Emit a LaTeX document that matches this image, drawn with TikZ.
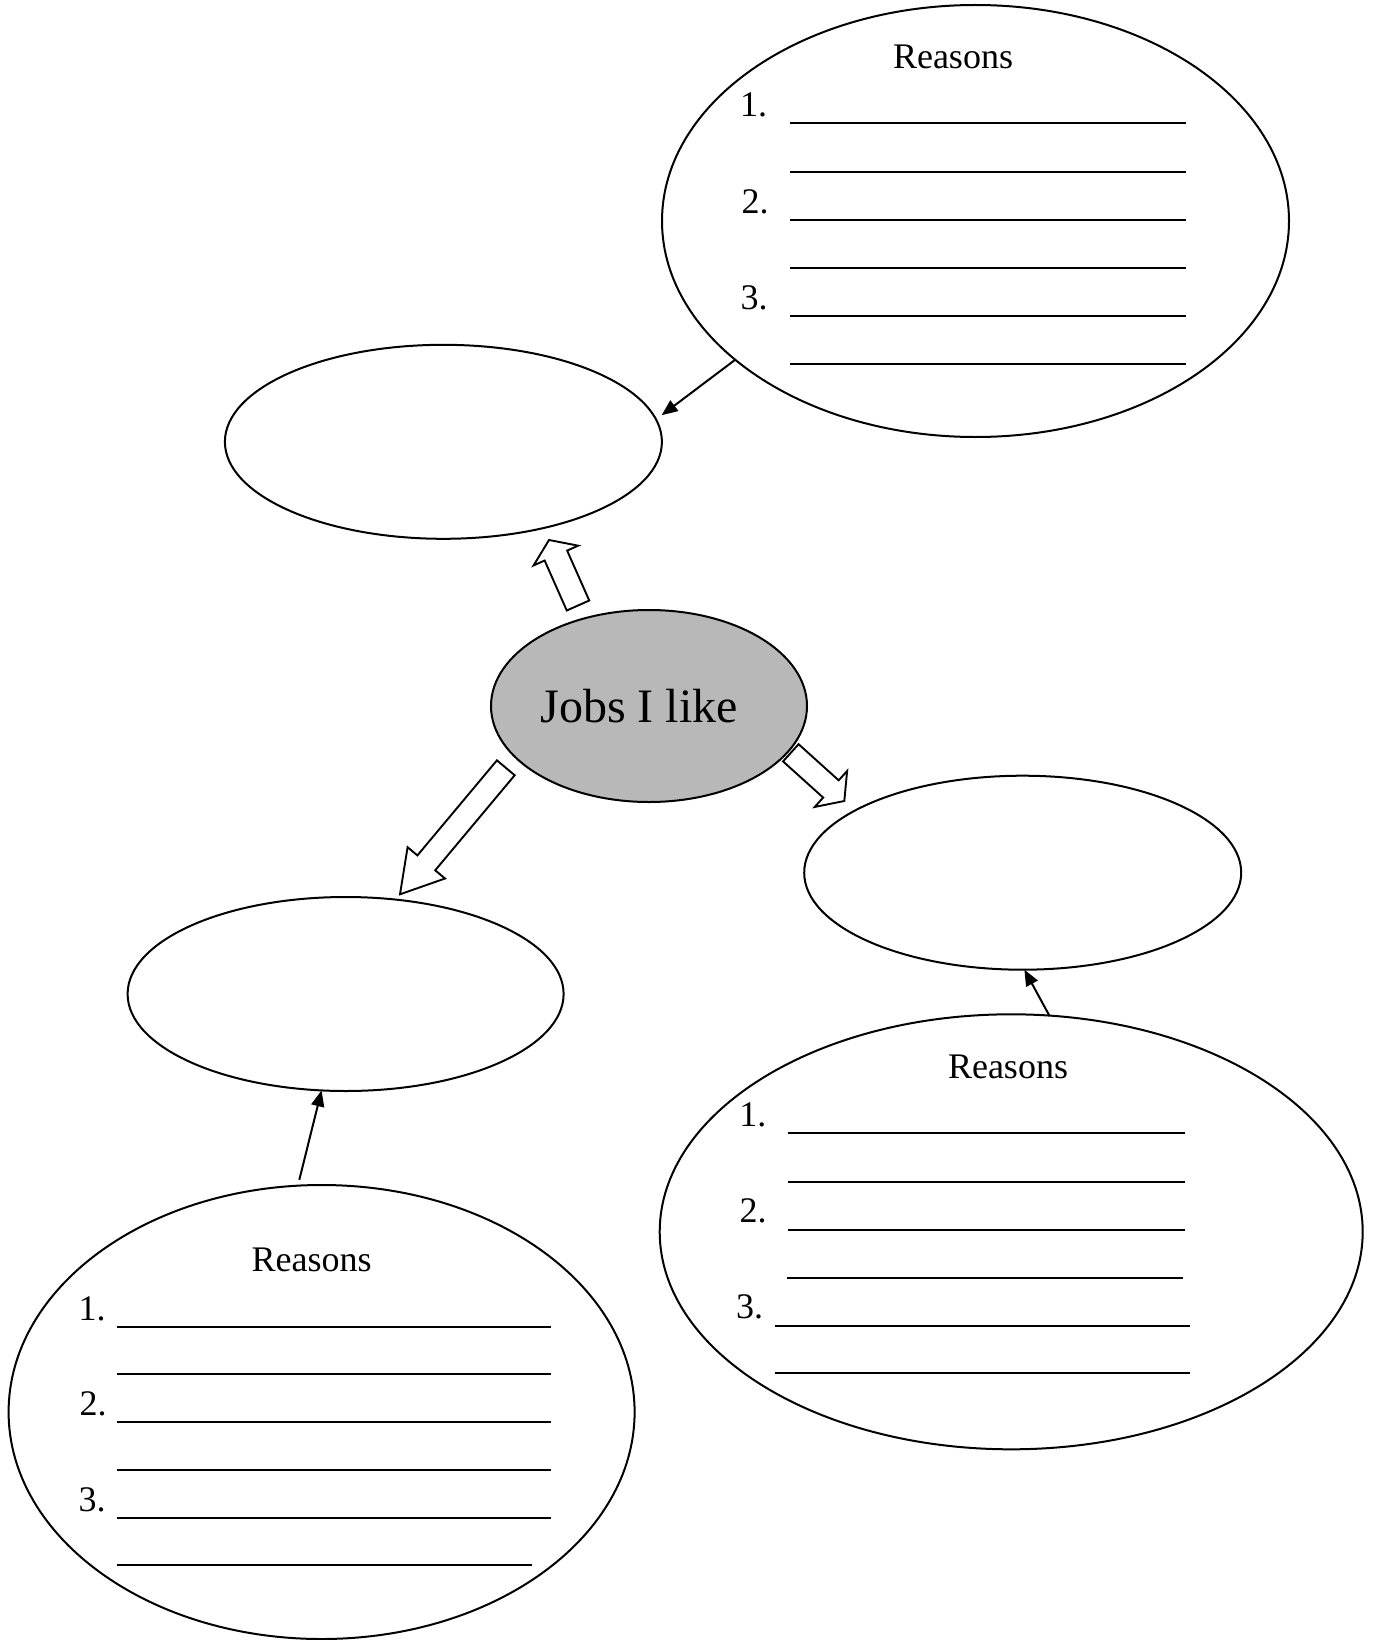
\documentclass[tikz,border=0pt]{standalone}
\usepackage{fontspec}
\setmainfont{Liberation Serif}
\usetikzlibrary{shapes.geometric,arrows.meta,calc}
\tikzset{
  oval/.style={draw, ellipse, line width=2pt, inner sep=0pt, outer sep=0pt},
  reason/.style={font=\fontsize{36}{40}\selectfont, inner sep=0pt, outer sep=0pt},
  blank/.style={line width=1.7pt},
  thinarr/.style={draw, line width=2pt, -{Triangle[length=16pt,width=13pt]}},
  hollow/.style={draw, line width=1.9pt, fill=white, line join=miter},
}
\newcommand\blockarr[5]{%
  \coordinate (#2-base) at ($(#2)!#5!(#1)$);
  \draw[hollow] ($(#1)!#3!90:(#2)$) -- ($(#2-base)!#3!-90:(#1)$) -- ($(#2-base)!#4!-90:(#1)$) -- (#2) -- ($(#2-base)!#4!90:(#1)$) -- ($(#2-base)!#3!90:(#1)$) -- ($(#1)!#3!-90:(#2)$) -- cycle;}
\begin{document}
\begin{tikzpicture}[x=1pt,y=-1pt]
\path[use as bounding box, fill=white] (0,0) rectangle (1373,1640);

% ellipses
\node[oval, minimum width=627pt, minimum height=432pt] (tr) at (975.5,221) {};
\node[oval, minimum width=437pt, minimum height=194pt] (tl) at (443.4,441.8) {};
\node[oval, fill=black!28, minimum width=316pt, minimum height=192pt,
      font=\fontsize{48}{52}\selectfont] (ce) at (649,706) {Jobs I like\hspace*{20pt}};
\node[oval, minimum width=437pt, minimum height=194pt] (rm) at (1022.7,872.7) {};
\node[oval, minimum width=436pt, minimum height=194pt] (lm) at (345.6,994) {};
\node[oval, minimum width=703pt, minimum height=435pt] (br) at (1011.2,1231.8) {};
\node[oval, minimum width=626pt, minimum height=454pt] (bl) at (321.6,1412) {};

% top-right reasons
\node[reason, anchor=base] (trR) at (953,68.3) {Reasons};
\node[reason, anchor=base west] (tr1) at (740,116.7) {1.};
\node[reason, anchor=base west] (tr2) at (741.5,213) {2.};
\node[reason, anchor=base west] (tr3) at (740.5,309) {3.};
\foreach \y in {122.7,171.7,220,267.7,316,364}
  \draw[blank] (790,\y) -- (1186,\y);

% bottom-right reasons
\node[reason, anchor=base] (brR) at (1008,1078.3) {Reasons};
\node[reason, anchor=base west] (br1) at (739.3,1126.7) {1.};
\node[reason, anchor=base west] (br2) at (739.7,1222.7) {2.};
\node[reason, anchor=base west] (br3) at (736,1318) {3.};
\foreach \y in {1133.3,1181.7,1230}
  \draw[blank] (788,\y) -- (1185,\y);
\draw[blank] (786.7,1277.7) -- (1183,1277.7);
\foreach \y in {1325.7,1373.3}
  \draw[blank] (775,\y) -- (1190,\y);

% bottom-left reasons
\node[reason, anchor=base] (blR) at (311.7,1271.7) {Reasons};
\node[reason, anchor=base west] (bl1) at (78.7,1320) {1.};
\node[reason, anchor=base west] (bl2) at (79.7,1415) {2.};
\node[reason, anchor=base west] (bl3) at (78.7,1511.7) {3.};
\foreach \y in {1326.7,1374,1422,1470,1517.7}
  \draw[blank] (116.7,\y) -- (550.7,\y);
\draw[blank] (116.7,1565) -- (531.7,1565);

% thin arrows
\draw[thinarr, shorten >=7pt] (tr.210.5) -- (tl.6.7);
\draw[thinarr, shorten <=6pt] (bl.96) -- (lm.256.3);
\draw[thinarr] (br.80.3) -- (rm.271);

% block arrows
\coordinate (u0) at (578,605.5);   \coordinate (u1) at (549,540);
\coordinate (l0) at (505.8,767.8); \coordinate (l1) at (400,894.3);
\coordinate (r0) at (790.8,752.8); \coordinate (r1) at (844.3,801);
\blockarr{u0}{u1}{12.3pt}{24.4pt}{17pt}
\blockarr{l0}{l1}{11.6pt}{24.4pt}{41pt}
\blockarr{r0}{r1}{11.6pt}{24.2pt}{18pt}
\end{tikzpicture}
\end{document}
